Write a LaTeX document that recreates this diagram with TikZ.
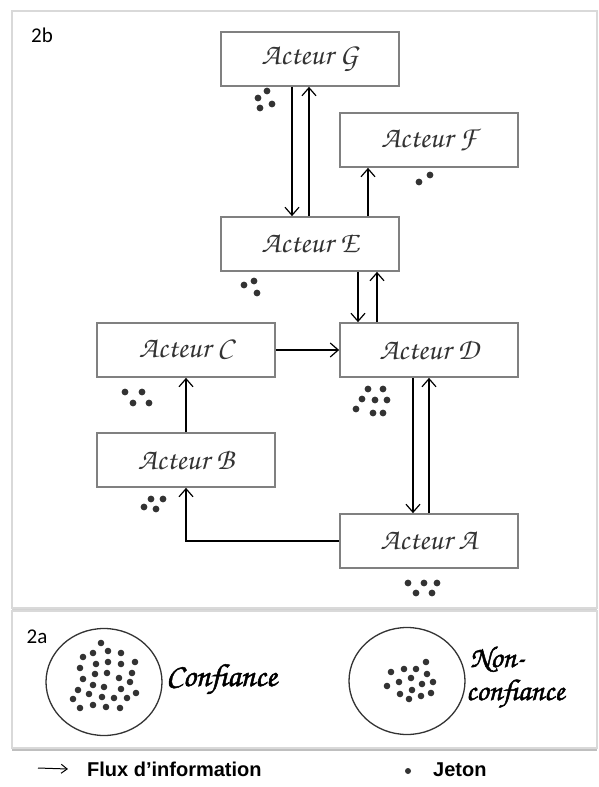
\documentclass[tikz,border=0pt]{standalone}
\usepackage{fontspec}
\setmainfont{Liberation Sans}
\newfontfamily\chorusfont{texgyrechorus-mediumitalic.otf}
\newfontfamily\chorusbold{texgyrechorus-mediumitalic.otf}[FakeBold=1.6]
\newfontfamily\carlitofont{Carlito}
\usetikzlibrary{arrows.meta,shadows,shapes.geometric}
\definecolor{boxgray}{HTML}{808080}
\definecolor{panelgray}{HTML}{D9D9D9}
\definecolor{dotgray}{HTML}{333333}
\definecolor{txtgray}{HTML}{333333}
\begin{document}
\begin{tikzpicture}[x=1pt,y=-1pt,
  actor/.style={draw=boxgray, line width=1.7pt, fill=white, minimum width=178pt, minimum height=54pt, inner sep=0pt, text=txtgray, font=\chorusfont\fontsize{30}{32}\selectfont},
  flow/.style={line width=1.2pt, -{Straight Barb[length=8pt,width=14pt]}},
  panel/.style={draw=panelgray, line width=1.5pt, fill=white},
  plabel/.style={font=\carlitofont\fontsize{21}{24}\selectfont, text=black, inner sep=0pt},
  tokenpool/.style={draw=dotgray, line width=1.3pt, ellipse, inner sep=0pt, minimum width=116pt, minimum height=107pt},
  pooltext/.style={font=\chorusbold\fontsize{32}{34}\selectfont, text=black, inner sep=0pt},
  pooltextsmall/.style={font=\chorusbold\fontsize{30}{32}\selectfont, text=black, inner sep=0pt},
  legendtext/.style={font=\bfseries\fontsize{20}{24}\selectfont, text=black, inner sep=0pt},
  jeton/.style={fill=dotgray}
]
\useasboundingbox (0,0) rectangle (598,787);
\fill[white] (0,0) rectangle (598,787);

% panels
\draw[panel, drop shadow={shadow xshift=0pt, shadow yshift=-2pt, fill=black!35}] (12,11) rectangle (597,608);
\draw[panel, drop shadow={shadow xshift=0pt, shadow yshift=-3pt, fill=black!50}] (12,611) rectangle (597,748);

\node[plabel] (l2b) at (42,35) {2b};
\node[plabel] (l2a) at (37,637) {2a};

% actors
\node[actor] (G) at (310,59) {Acteur G};
\node[actor] (F) at (429,140) {Acteur F};
\node[actor] (E) at (310,244) {Acteur E};
\node[actor] (C) at (186,350) {Acteur C};
\node[actor] (D) at (429,350) {Acteur D};
\node[actor] (B) at (186,460) {Acteur B};
\node[actor] (A) at (429,541) {Acteur A};

% flows
\draw[flow] ([xshift=-18pt]G.south) -- ([xshift=-18pt]E.north);
\draw[flow] ([xshift=-1pt]E.north) -- ([xshift=-1pt]G.south);
\draw[flow] ([xshift=58pt]E.north) -- ([xshift=-61pt]F.south);
\draw[flow] ([xshift=48pt]E.south) -- ([xshift=-71pt]D.north);
\draw[flow] ([xshift=-52pt]D.north) -- ([xshift=67pt]E.south);
\draw[flow] (C.east) -- (D.west);
\draw[flow] ([xshift=-16pt]D.south) -- ([xshift=-16pt]A.north);
\draw[flow] (A.north) -- (D.south);
\draw[flow] (B.north) -- (C.south);
\draw[flow] (A.west) -| (B.south);

% tokens
\foreach \p in {(267,91),(258,98),(272,104),(260,108)} \fill[jeton] \p circle[radius=3.4pt];
\foreach \p in {(419,182),(430,175)} \fill[jeton] \p circle[radius=3.4pt];
\foreach \p in {(244,285),(254,281),(257,293)} \fill[jeton] \p circle[radius=3.4pt];
\foreach \p in {(125,392),(142,392),(133,403),(149,403)} \fill[jeton] \p circle[radius=3.4pt];
\foreach \p in {(368,389),(383,389),(362,399),(375,400),(387,400),(356,409),(373,413),(383,413)} \fill[jeton] \p circle[radius=3.4pt];
\foreach \p in {(144,507),(151,499),(163,499),(156,509)} \fill[jeton] \p circle[radius=3.4pt];
\foreach \p in {(408,583),(424,583),(437,583),(416,593),(432,593)} \fill[jeton] \p circle[radius=3.4pt];

% 2a
\node[tokenpool] (conf) at (104,682) {};
\node[tokenpool] (nonconf) at (407,681) {};
\foreach \p in {(101,643),(83,657),(93,653),(108,651),(121,653),(80,668),(96,664),(108,662),(121,664),(135,662),(83,679),(95,674),(107,673),(119,678),(132,673),(78,690),(93,685),(104,687),(121,689),(130,682),(73,699),(89,694),(102,697),(114,698),(127,698),(136,693),(80,708),(93,705),(106,707),(120,708)} \fill[jeton] \p circle[radius=3.3pt];
\foreach \p in {(426,662),(391,672),(404,669),(416,669),(427,674),(387,686),(399,682),(411,678),(422,684),(433,682),(400,694),(412,690),(421,696),(431,693),(409,699)} \fill[jeton] \p circle[radius=3.3pt];
\node[pooltext, anchor=base west] (conftxt) at (166,686) {Confiance};
\node[pooltextsmall, anchor=base west] (nontxt) at (470,667) {Non-};
\node[pooltextsmall, anchor=base west] (conftxt2) at (466,700) {confiance};

% legend
\coordinate (legstart) at (38,768);
\node[legendtext, anchor=base west] (flux) at (87,776) {Flux d’information};
\draw[line width=1pt, -{Straight Barb[length=6pt,width=9pt]}] (legstart) -- ([xshift=-19pt,yshift=7pt]flux.base west);
\fill[jeton] (408,771) circle[radius=3pt];
\node[legendtext, anchor=base west] (jet) at (433,776) {Jeton};
\end{tikzpicture}
\end{document}
